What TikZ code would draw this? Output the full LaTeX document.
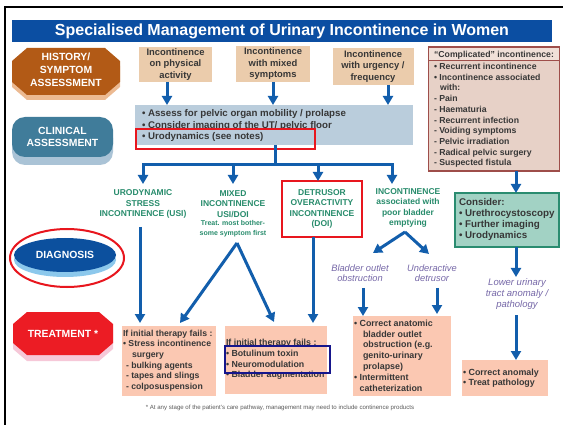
\documentclass[tikz,border=0pt]{standalone}
\usepackage{fontspec}
\setmainfont{Liberation Sans}
\usetikzlibrary{arrows.meta}
\newcommand{\myfs}[2]{\fontsize{#1}{#2}\selectfont}
\definecolor{titleblue}{RGB}{11,78,162}
\definecolor{arrowblue}{RGB}{18,94,172}
\definecolor{brownoct}{RGB}{178,90,22}
\definecolor{brownshadow}{RGB}{236,186,146}
\definecolor{tanc}{RGB}{235,204,172}
\definecolor{greyc}{RGB}{186,205,220}
\definecolor{clinblue}{RGB}{64,124,154}
\definecolor{clinshadow}{RGB}{170,195,214}
\definecolor{diagblue}{RGB}{12,80,158}
\definecolor{diagshadow}{RGB}{140,200,236}
\definecolor{treatred}{RGB}{236,28,36}
\definecolor{treatshadow}{RGB}{246,200,216}
\definecolor{dxteal}{RGB}{40,140,108}
\definecolor{purpl}{RGB}{118,104,168}
\definecolor{salmonc}{RGB}{251,200,178}
\definecolor{compfill}{RGB}{231,209,199}
\definecolor{compheader}{RGB}{240,224,216}
\definecolor{compborder}{RGB}{158,78,74}
\definecolor{considerfill}{RGB}{162,210,196}
\definecolor{considerborder}{RGB}{42,140,112}
\definecolor{boxtext}{RGB}{55,55,55}
\definecolor{navyc}{RGB}{22,22,140}
\definecolor{hired}{RGB}{232,22,30}
\definecolor{footgrey}{RGB}{90,90,90}
\begin{document}
\begin{tikzpicture}[x=1pt,y=-1pt,
  every node/.style={inner sep=0pt,outer sep=0pt},
  arr/.style={draw=arrowblue,line width=3pt,-{Triangle[length=9pt,width=10pt]}},
  tline/.style={draw=arrowblue,line width=3pt},
  tanbox/.style={fill=tanc,align=center,font=\myfs{9.4}{11.5}\bfseries,text=boxtext},
  salbox/.style={fill=salmonc},
  lefttext/.style={anchor=west,align=left,text=boxtext},
  diaglabel/.style={align=center,text=dxteal,font=\myfs{8.5}{10.5}\bfseries},
  subtype/.style={align=center,text=purpl,font=\myfs{9.3}{10}\itshape},
  phase/.style={align=center,text=white,font=\myfs{10.4}{13}\bfseries}]
\useasboundingbox (0,0) rectangle (563,425);
\fill[white] (0,0) rectangle (563,425);
% frame
\draw[line width=2pt] (5,425) -- (5,7) -- (563,7);
% title
\node[fill=titleblue,minimum width=540,minimum height=22,text=white,font=\myfs{16}{18}\bfseries] (title) at (282,31) {Specialised Management of Urinary Incontinence in Women};

% phase shapes
\fill[brownshadow,shift={(0,5)}] (27,48) -- (105,48) -- (120,61) -- (120,82) -- (105,95) -- (27,95) -- (12,82) -- (12,61) -- cycle;
\fill[brownoct] (27,48) -- (105,48) -- (120,61) -- (120,82) -- (105,95) -- (27,95) -- (12,82) -- (12,61) -- cycle;
\node[phase] (hist) at (66,70) {HISTORY/\\SYMPTOM\\ASSESSMENT};

\fill[clinshadow,rounded corners=13pt] (12,125) rectangle (113,165);
\fill[clinblue,rounded corners=13pt] (12,117) rectangle (113,157);
\node[phase,font=\myfs{10.4}{12}\bfseries] (clinlab) at (62.5,137) {CLINICAL\\ASSESSMENT};

\fill[diagshadow] (65,260) ellipse [x radius=51,y radius=17];
\fill[diagblue] (65,255) ellipse [x radius=51,y radius=17];
\draw[hired,line width=2pt] (67,258) ellipse [x radius=57,y radius=29];
\node[phase] (diag) at (65,255) {DIAGNOSIS};

\fill[treatshadow,shift={(0,6)}] (27,312) -- (99,312) -- (113,324) -- (113,343) -- (99,355) -- (27,355) -- (13,343) -- (13,324) -- cycle;
\fill[treatred] (27,312) -- (99,312) -- (113,324) -- (113,343) -- (99,355) -- (27,355) -- (13,343) -- (13,324) -- cycle;
\node[phase] (treat) at (63,334) {TREATMENT *};

% symptom boxes
\node[tanbox,minimum width=73,minimum height=35] (b1) at (175.5,64.5) {Incontinence\\on physical\\activity};
\node[tanbox,minimum width=74,minimum height=36] (b2) at (273,64) {Incontinence\\with mixed\\symptoms};
\node[tanbox,minimum width=81,minimum height=37] (b3) at (373,66.5) {Incontinence\\with urgency /\\frequency};

% complicated box
\node[fill=compfill,draw=compborder,line width=1.5pt,minimum width=131,minimum height=124] (comp) at (494,109) {};
\fill[compheader] (429,48) rectangle (559,61);
\draw[compborder,line width=1pt] (428,61) -- (560,61);
\node[text=boxtext,font=\myfs{8.7}{10}\bfseries] (comphead) at (494,55.5) {“Complicated” incontinence:};
\node[lefttext,font=\myfs{8.7}{10.7}\bfseries] (complist) at (434,115.5) {• Recurrent incontinence\\• Incontinence associated\\\hspace{6pt}with:\\- Pain\\- Haematuria\\- Recurrent infection\\- Voiding symptoms\\- Pelvic irradiation\\- Radical pelvic surgery\\- Suspected fistula};

% clinical assessment box
\node[fill=greyc,minimum width=278,minimum height=40] (clin) at (274,125) {};
\node[lefttext,font=\myfs{9.7}{11.5}\bfseries] (clintext) at (142,125.5) {• Assess for pelvic organ mobility / prolapse\\• Consider imaging of the UT/ pelvic floor\\• Urodynamics (see notes)};
\node[draw=hired,line width=2pt,minimum width=179,minimum height=20] (redrect) at (225.5,139) {};

% arrows to clinical box
\coordinate (x1) at (167,0);
\coordinate (x2) at (273,0);
\coordinate (x3) at (388,0);
\draw[arr] (b1.south -| x1) -- (clin.north -| x1);
\draw[arr] (b2.south -| x2) -- (clin.north -| x2);
\draw[arr] (b3.south -| x3) -- (clin.north -| x3);

% diagnosis labels
\node[diaglabel] (usi) at (143,204) {URODYNAMIC\\STRESS\\INCONTINENCE (USI)};
\node[diaglabel] (mixed) at (233,204) {MIXED\\INCONTINENCE\\USI/DOI};
\node[diaglabel,font=\myfs{7}{9.5}\bfseries] (mixednote) at (233,228.5) {Treat. most bother-\\some symptom first};
\node[diaglabel,draw=hired,line width=2pt,minimum width=80,minimum height=56] (doi) at (322,209) {DETRUSOR\\OVERACTIVITY\\INCONTINENCE\\(DOI)};
\node[diaglabel] (poor) at (408,208) {INCONTINENCE\\associated with\\poor bladder\\emptying};

% bus
\coordinate (bus) at (275,165);
\coordinate (busL) at (143,165);
\coordinate (busM) at (233,165);
\coordinate (busD) at (318,165);
\coordinate (busR) at (392,165);
\coordinate (tipL) at (143,184);
\coordinate (tipM) at (233,184);
\coordinate (tipR) at (392,184);
\draw[tline] (clin.south -| bus) -- (bus);
\draw[tline,line cap=rect] (busL) -- (busR);
\draw[arr] (busL) -- (tipL);
\draw[arr] (busM) -- (tipM);
\draw[arr] (busD) -- (doi.north -| busD);
\draw[arr] (busR) -- (tipR);

% complicated path
\node[fill=considerfill,draw=considerborder,line width=1.5pt,minimum width=104,minimum height=54] (cons) at (507,220) {};
\node[lefttext,font=\myfs{9.8}{11}\bfseries] (constext) at (459,219.5) {Consider:\\• Urethrocystoscopy\\• Further imaging\\• Urodynamics};
\coordinate (cx) at (516,0);
\draw[arr] (comp.south -| cx) -- (cons.north -| cx);
\node[subtype,font=\myfs{9.5}{11}\itshape] (lut) at (517,294) {Lower urinary\\tract anomaly /\\pathology};
\coordinate (lutTop) at (516,277);
\coordinate (lutBot) at (516,315);
\draw[arr] (cons.south -| cx) -- (lutTop);

% sub types
\node[subtype] (boo) at (360,273.5) {Bladder outlet\\obstruction};
\node[subtype] (under) at (432,273) {Underactive\\detrusor};
\coordinate (poorapex) at (405,232);
\coordinate (booTip) at (373,253);
\coordinate (underTip) at (429,254);
\draw[arr] (poorapex) -- (booTip);
\draw[arr] (poorapex) -- (underTip);

% treatment boxes
\node[salbox,minimum width=94,minimum height=70] (tr1) at (169,361) {};
\node[lefttext,font=\myfs{8.7}{10.6}\bfseries] (tr1text) at (123,360.5) {If initial therapy fails :\\• Stress incontinence\\\hspace{9pt}surgery\\\hspace{3pt}- bulking agents\\\hspace{3pt}- tapes and slings\\\hspace{3pt}- colposuspension};

\node[salbox,minimum width=102,minimum height=68] (tr2) at (276,360) {};
\node[lefttext,font=\myfs{8.8}{10.8}\bfseries] (tr2text) at (226,359.5) {If initial therapy fails :\\• Botulinum toxin\\• Neuromodulation\\• Bladder augmentation};
\node[draw=navyc,line width=2pt,minimum width=105,minimum height=27] (bluerect) at (277.5,359.5) {};

\node[salbox,minimum width=98,minimum height=80] (tr3) at (402,356) {};
\node[lefttext,font=\myfs{8.9}{10.8}\bfseries] (tr3text) at (354,355.5) {• Correct anatomic\\\hspace{9pt}bladder outlet\\\hspace{9pt}obstruction (e.g.\\\hspace{9pt}genito-urinary\\\hspace{9pt}prolapse)\\• Intermittent\\\phantom{• }catheterization};

\node[salbox,minimum width=86,minimum height=36] (fin) at (505,378) {};
\node[lefttext,font=\myfs{8.9}{10}\bfseries] (fintext) at (463,378) {• Correct anomaly\\• Treat pathology};
\draw[arr] (lutBot) -- (fin.north -| lutBot);

% diagnosis to treatment arrows
\coordinate (usiTop) at (140,227);
\coordinate (usiX) at (140,0);
\draw[arr,shorten >=3pt] (usiTop) -- (tr1.north -| usiX);
\coordinate (mixapex) at (237,243);
\coordinate (mixL) at (180,323);
\coordinate (mixR) at (274,322);
\draw[arr] (mixapex) -- (mixL);
\draw[arr] (mixapex) -- (mixR);
\coordinate (dx) at (313,0);
\draw[arr,shorten >=3pt] (doi.south -| dx) -- (tr2.north -| dx);
\coordinate (booX) at (363,0);
\coordinate (underX) at (437,0);
\draw[arr] (363,288) -- (tr3.north -| booX);
\draw[arr,shorten >=2pt] (437,288) -- (tr3.north -| underX);

% footnote
\node[text=footgrey,font=\myfs{6.1}{7}] (foot) at (280,408) {* At any stage of the patient's care pathway, management may need to include continence products};
\end{tikzpicture}
\end{document}
